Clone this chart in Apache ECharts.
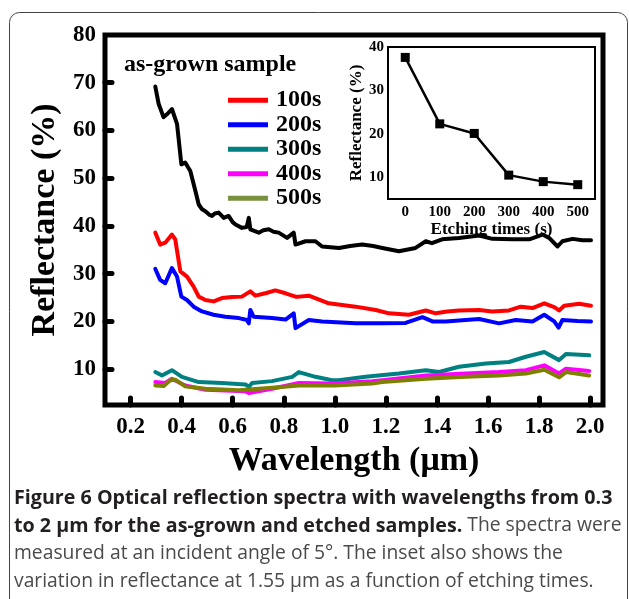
<!DOCTYPE html>
<html>
<head>
<meta charset="utf-8">
<script src="https://cdn.jsdelivr.net/npm/echarts@6/dist/echarts.min.js"></script>
<style>
html,body{margin:0;padding:0;background:#fff;}
#chart{width:629px;height:599px;}
</style>
</head>
<body>
<div id="chart"></div>
<script>
// ---- data ----
const xTicks = [0.2,0.4,0.6,0.8,1.0,1.2,1.4,1.6,1.8,2.0];
const yTicks = [10,20,30,40,50,60,70,80];
const seriesNames = ['as-grown sample','100s','200s','300s','400s','500s'];

const asGrown = [[0.297,69.2],[0.31,65.6],[0.329,62.8],[0.345,63.5],[0.362,64.5],[0.382,61.4],[0.399,52.9],[0.414,53.3],[0.434,51.5],[0.454,47.3],[0.467,44.5],[0.48,43.5],[0.493,43.1],[0.51,42.3],[0.519,42.1],[0.53,42.6],[0.545,42.8],[0.565,41.7],[0.584,42.1],[0.6,40.8],[0.611,40.3],[0.636,39.6],[0.655,39.8],[0.663,41.7],[0.669,39.3],[0.702,38.6],[0.72,39.1],[0.741,39.3],[0.76,38.8],[0.78,38.6],[0.813,37.5],[0.839,38.6],[0.846,36.1],[0.885,36.8],[0.924,36.8],[0.95,35.7],[1.016,35.4],[1.06,35.8],[1.107,36.1],[1.15,35.8],[1.186,35.4],[1.251,34.7],[1.316,35.4],[1.356,36.8],[1.38,36.4],[1.42,37.2],[1.486,37.5],[1.565,38.0],[1.617,37.3],[1.695,37.2],[1.761,37.2],[1.813,38.2],[1.839,37.5],[1.872,35.7],[1.891,36.8],[1.931,37.3],[1.97,37.0],[2.003,37.0]];
const etch100 = [[0.297,38.6],[0.316,36.1],[0.336,36.5],[0.362,38.2],[0.375,37.2],[0.395,30.5],[0.421,29.4],[0.447,27.3],[0.467,25.2],[0.493,24.5],[0.525,24.2],[0.558,24.9],[0.597,25.1],[0.636,25.2],[0.669,26.3],[0.689,25.4],[0.728,25.9],[0.767,26.5],[0.807,25.9],[0.846,25.2],[0.859,25.2],[0.898,25.4],[0.976,23.8],[1.081,23.1],[1.16,22.4],[1.212,21.7],[1.29,21.4],[1.356,22.3],[1.395,21.7],[1.44,22.1],[1.486,22.3],[1.565,22.4],[1.617,22.1],[1.682,22.3],[1.728,23.1],[1.774,22.8],[1.82,23.8],[1.859,23.0],[1.878,22.3],[1.898,23.3],[1.957,23.7],[2.003,23.3]];
const etch200 = [[0.297,31.0],[0.316,28.7],[0.336,28.0],[0.362,31.2],[0.382,29.4],[0.399,25.2],[0.421,24.5],[0.447,23.1],[0.48,22.1],[0.525,21.4],[0.571,21.0],[0.624,20.7],[0.656,20.3],[0.663,19.6],[0.669,22.4],[0.682,21.0],[0.754,20.7],[0.807,20.4],[0.839,21.7],[0.846,18.6],[0.898,20.3],[0.95,20.0],[1.081,19.6],[1.186,19.6],[1.277,19.7],[1.343,20.9],[1.382,20.0],[1.434,20.0],[1.486,20.2],[1.565,20.5],[1.643,19.6],[1.708,20.3],[1.774,20.0],[1.82,21.4],[1.859,20.0],[1.876,18.7],[1.891,20.3],[1.95,20.1],[2.003,20.0]];
const etch300 = [[0.297,9.4],[0.323,8.7],[0.362,9.8],[0.401,8.4],[0.467,7.3],[0.558,7.1],[0.65,6.8],[0.663,6.3],[0.676,7.1],[0.754,7.5],[0.833,8.4],[0.859,9.4],[0.924,8.4],[0.989,7.7],[1.016,7.7],[1.12,8.4],[1.251,9.1],[1.356,9.8],[1.408,9.4],[1.486,10.5],[1.591,11.2],[1.682,11.5],[1.748,12.6],[1.82,13.6],[1.878,11.9],[1.905,13.2],[1.996,12.9]];
const etch400 = [[0.297,7.3],[0.336,7.1],[0.362,8.0],[0.414,6.6],[0.493,5.7],[0.65,5.4],[0.663,5.0],[0.754,5.9],[0.859,7.1],[0.989,7.0],[1.146,7.5],[1.186,7.7],[1.356,8.7],[1.512,9.1],[1.643,9.4],[1.748,9.8],[1.82,10.8],[1.878,9.1],[1.905,10.1],[1.996,9.6]];
const etch500 = [[0.297,6.6],[0.33,6.5],[0.355,7.7],[0.375,7.8],[0.414,6.4],[0.493,5.9],[0.624,5.6],[0.754,6.1],[0.859,6.6],[1.0,6.6],[1.146,7.0],[1.186,7.3],[1.356,8.0],[1.512,8.4],[1.643,8.7],[1.748,9.1],[1.82,9.9],[1.878,8.3],[1.905,9.4],[1.996,8.7]];

// inset
const insetTimes = [0,100,200,300,400,500];
const insetRefl = [37.6,22.3,20.1,10.5,9.0,8.3];
const insetYTicks = [10,20,30,40];

const captionLines = [
  [{t:'Figure 6 Optical reflection spectra with wavelengths from 0.3', b:true}],
  [{t:'to 2 \u03bcm for the as-grown and etched samples.', b:true},{t:' The spectra were', b:false}],
  [{t:'measured at an incident angle of 5\u00b0. The inset also shows the', b:false}],
  [{t:'variation in reflectance at 1.55 \u03bcm as a function of etching times.', b:false}]
];

const colors = ['#000000','#ff0000','#0000ff','#008080','#ff00ff','#808000'];
const SERIF = '"Liberation Serif","Times New Roman",serif';
const SANS = '"Open Sans","Noto Sans",sans-serif';

const chart = echarts.init(document.getElementById('chart'), null, {renderer:'canvas'});

const spectra = [asGrown, etch100, etch200, etch300, etch400, etch500];

const series = spectra.map((d,i)=>({
  name: seriesNames[i], type:'line', xAxisIndex:0, yAxisIndex:0,
  data: d, showSymbol:false, symbol:'none',
  lineStyle:{color:colors[i], width:4, join:'round', cap:'round'},
  itemStyle:{color:colors[i]}, z: 2+i, silent:true
}));
series.push({
  name:'inset', type:'line', xAxisIndex:1, yAxisIndex:1,
  data: insetTimes.map((t,i)=>[t, insetRefl[i]]),
  symbol:'rect', symbolSize:9, showSymbol:true,
  lineStyle:{color:'#000', width:2.5}, itemStyle:{color:'#000'}, z:10, silent:true
});

// caption graphics
const capGraphics = [];
const capCenter = [497, 525, 553, 581];
captionLines.forEach((segs, li)=>{
  let text = '';
  segs.forEach((s)=>{
    const key = (s.b?'b':'r');
    text += '{' + key + '|' + s.t + '}';
  });
  capGraphics.push({
    type:'text', left:14, top: capCenter[li]-9,
    style:{
      text: text, fontFamily: SANS, fontSize:19.5,
      rich:{
        b:{fontFamily:SANS, fontSize:19.7, fontWeight:'bold', fill:'#231f20'},
        r:{fontFamily:SANS, fontSize:19.3, fontWeight:'normal', fill:'#4a4a4a'}
      }
    }
  });
});

const option = {
  animation:false,
  backgroundColor:'#fff',
  title:{
    text:'as-grown sample', left:124, top:53, padding:0,
    textStyle:{fontFamily:SERIF, fontWeight:'bold', fontSize:24, color:'#000'}
  },
  legend:{
    orient:'vertical', left:228, top:88, padding:0,
    itemWidth:40, itemHeight:5, itemGap:0, icon:'rect',
    textStyle:{fontFamily:SERIF, fontWeight:'bold', fontSize:24, lineHeight:24.5, color:'#000', padding:[0,0,0,3]},
    data:[
      {name:'100s'},{name:'200s'},{name:'300s'},{name:'400s'},
      {name:'500s', itemStyle:{color:'#77913c'}}
    ],
    selectedMode:false
  },
  grid:[
    {left:105, top:35, width:498, height:370, show:true, borderWidth:5, borderColor:'#000', backgroundColor:'transparent'},
    {left:388, top:47, width:207, height:152, show:true, borderWidth:2, borderColor:'#000', backgroundColor:'#fff', z:5}
  ],
  xAxis:[
    {type:'value', gridIndex:0, min:0.1, max:2.05,
     name:'Wavelength (\u03bcm)', nameLocation:'middle', nameGap:33,
     nameTextStyle:{fontFamily:SERIF, fontWeight:'bold', fontSize:34, color:'#000'},
     axisLine:{show:false},
     axisTick:{show:true, inside:true, length:7, customValues:xTicks, lineStyle:{color:'#000', width:5, cap:'round'}},
     axisLabel:{show:true, customValues:xTicks, margin:11, formatter:v=>v.toFixed(1),
       fontFamily:SERIF, fontWeight:'bold', fontSize:23, color:'#000'},
     splitLine:{show:false}},
    {type:'value', gridIndex:1, min:-50, max:550,
     name:'Etching times (s)', nameLocation:'middle', nameGap:19,
     nameTextStyle:{fontFamily:SERIF, fontWeight:'bold', fontSize:17, color:'#000'},
     axisLine:{show:false},
     axisTick:{show:false},
     axisLabel:{show:true, customValues:insetTimes, margin:6,
       fontFamily:SERIF, fontWeight:'bold', fontSize:15, color:'#000'},
     splitLine:{show:false}, z:6}
  ],
  yAxis:[
    {type:'value', gridIndex:0, min:2.5, max:80,
     name:'Reflectance (%)', nameLocation:'middle', nameGap:43,
     nameTextStyle:{fontFamily:SERIF, fontWeight:'bold', fontSize:34, color:'#000'},
     axisLine:{show:false},
     axisTick:{show:true, inside:true, length:7, customValues:yTicks.slice(0,7), lineStyle:{color:'#000', width:5, cap:'round'}},
     axisLabel:{show:true, customValues:yTicks, margin:9,
       fontFamily:SERIF, fontWeight:'bold', fontSize:23, color:'#000'},
     splitLine:{show:false}},
    {type:'value', gridIndex:1, min:5, max:40,
     name:'Reflectance (%)', nameLocation:'middle', nameGap:22,
     nameTextStyle:{fontFamily:SERIF, fontWeight:'bold', fontSize:17, color:'#000'},
     axisLine:{show:false},
     axisTick:{show:false},
     axisLabel:{show:true, customValues:insetYTicks, margin:4,
       fontFamily:SERIF, fontWeight:'bold', fontSize:15, color:'#000'},
     splitLine:{show:false}, z:6}
  ],
  series: series,
  graphic:[
    {type:'rect', shape:{x:9.5, y:12.5, width:618, height:600, r:10},
     style:{fill:'none', stroke:'#444', lineWidth:1}, silent:true, z:-1}
  ].concat(capGraphics)
};
chart.setOption(option);
</script>
</body>
</html>
